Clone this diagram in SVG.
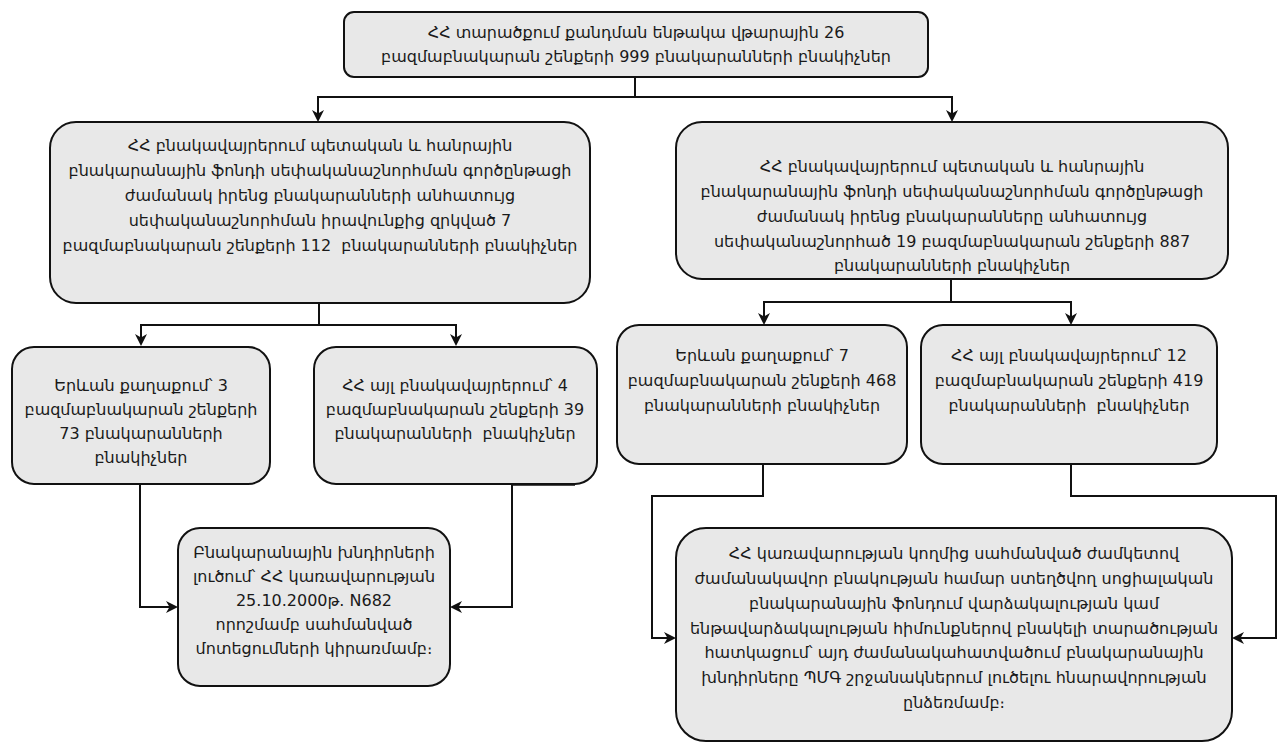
<svg xmlns="http://www.w3.org/2000/svg" width="1278" height="742" viewBox="0 0 1278 742">
<style>
.box{fill:#e8e8e8;stroke:#111;stroke-width:2}
.t{font-family:"DejaVu Sans",sans-serif;font-size:16px;fill:#1a1a1a;text-anchor:middle;white-space:pre}
.c{fill:none;stroke:#111;stroke-width:2}
</style>
<defs>
<marker id="ar" markerUnits="userSpaceOnUse" markerWidth="14" markerHeight="14" refX="9" refY="6" orient="auto">
<path d="M0,0 L12,6 L0,12 L3.5,6 Z" fill="#111"/>
</marker>
</defs>
<rect width="1278" height="742" fill="#fff"/>
<g id="connectors">
<path class="c" d="M635,77 V97 H318 V119" marker-end="url(#ar)"/>
<path class="c" d="M635,97 H952 V119" marker-end="url(#ar)"/>
<path class="c" d="M319,303 V325 H141 V343" marker-end="url(#ar)"/>
<path class="c" d="M319,325 H456 V343" marker-end="url(#ar)"/>
<path class="c" d="M951,279 V302 H764 V322" marker-end="url(#ar)"/>
<path class="c" d="M951,302 H1071 V322" marker-end="url(#ar)"/>
<path class="c" d="M140,484 V607 H175" marker-end="url(#ar)"/>
<path class="c" d="M512,484 V607 H453" marker-end="url(#ar)"/>
<path class="c" d="M512,484 H575" style="stroke-width:3.5"/>
<path class="c" d="M763,464 V496 H652 V638 H673" marker-end="url(#ar)"/>
<path class="c" d="M1071,464 V496 H1276 V638 H1235" marker-end="url(#ar)"/>
</g>
<g id="n-top">
<rect class="box" x="344" y="12" width="584" height="65" rx="10"/>
<text class="t" x="636" y="38">ՀՀ տարածքում քանդման ենթակա վթարային 26</text>
<text class="t" x="636" y="62">բազմաբնակարան շենքերի 999 բնակարանների բնակիչներ</text>
</g>
<g id="n-left">
<rect class="box" x="50" y="122" width="540" height="181" rx="26"/>
<text class="t" x="320" y="151">ՀՀ բնակավայրերում պետական և հանրային</text>
<text class="t" x="320" y="176">բնակարանային ֆոնդի սեփականաշնորհման գործընթացի</text>
<text class="t" x="320" y="201">ժամանակ իրենց բնակարանների անհատույց</text>
<text class="t" x="320" y="226">սեփականաշնորհման իրավունքից զրկված 7</text>
<text class="t" x="320" y="251">բազմաբնակարան շենքերի 112  բնակարանների բնակիչներ</text>
</g>
<g id="n-right">
<rect class="box" x="676" y="122" width="552" height="157" rx="26"/>
<text class="t" x="952" y="172">ՀՀ բնակավայրերում պետական և հանրային</text>
<text class="t" x="952" y="197">բնակարանային ֆոնդի սեփականաշնորհման գործընթացի</text>
<text class="t" x="952" y="222">ժամանակ իրենց բնակարանները անհատույց</text>
<text class="t" x="952" y="247">սեփականաշնորհած 19 բազմաբնակարան շենքերի 887</text>
<text class="t" x="952" y="271">բնակարանների բնակիչներ</text>
</g>
<g id="n-a">
<rect class="box" x="12" y="347" width="258" height="137" rx="22"/>
<text class="t" x="141" y="391">Երևան քաղաքում՝ 3</text>
<text class="t" x="141" y="415">բազմաբնակարան շենքերի</text>
<text class="t" x="141" y="439">73 բնակարանների</text>
<text class="t" x="141" y="463">բնակիչներ</text>
</g>
<g id="n-b">
<rect class="box" x="314" y="347" width="283" height="137" rx="22"/>
<text class="t" x="455" y="391">ՀՀ այլ բնակավայրերում՝ 4</text>
<text class="t" x="455" y="415">բազմաբնակարան շենքերի 39</text>
<text class="t" x="455" y="439">բնակարանների  բնակիչներ</text>
</g>
<g id="n-c">
<rect class="box" x="617" y="325" width="290" height="139" rx="22"/>
<text class="t" x="762" y="361">Երևան քաղաքում՝ 7</text>
<text class="t" x="762" y="386">բազմաբնակարան շենքերի 468</text>
<text class="t" x="762" y="411">բնակարանների բնակիչներ</text>
</g>
<g id="n-d">
<rect class="box" x="921" y="325" width="296" height="139" rx="22"/>
<text class="t" x="1069" y="361">ՀՀ այլ բնակավայրերում՝ 12</text>
<text class="t" x="1069" y="386">բազմաբնակարան շենքերի 419</text>
<text class="t" x="1069" y="411">բնակարանների  բնակիչներ</text>
</g>
<g id="n-bl">
<rect class="box" x="178" y="528" width="272" height="158" rx="22"/>
<text class="t" x="314" y="558">Բնակարանային խնդիրների</text>
<text class="t" x="314" y="582">լուծում՝ ՀՀ կառավարության</text>
<text class="t" x="314" y="606">25.10.2000թ. N682</text>
<text class="t" x="314" y="630">որոշմամբ սահմանված</text>
<text class="t" x="314" y="654">մոտեցումների կիրառմամբ։</text>
</g>
<g id="n-br">
<rect class="box" x="676" y="528" width="556" height="213" rx="30"/>
<text class="t" x="954" y="559">ՀՀ կառավարության կողմից սահմանված ժամկետով</text>
<text class="t" x="954" y="584">ժամանակավոր բնակության համար ստեղծվող սոցիալական</text>
<text class="t" x="954" y="609">բնակարանային ֆոնդում վարձակալության կամ</text>
<text class="t" x="954" y="634">ենթավարձակալության հիմունքներով բնակելի տարածության</text>
<text class="t" x="954" y="658">հատկացում՝ այդ ժամանակահատվածում բնակարանային</text>
<text class="t" x="954" y="683">խնդիրները ՊՄԳ շրջանակներում լուծելու հնարավորության</text>
<text class="t" x="954" y="708">ընձեռմամբ։</text>
</g>
</svg>
